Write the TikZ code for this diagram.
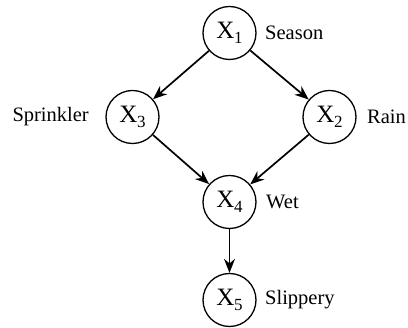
\documentclass[tikz,border=0pt]{standalone}
\usepackage{fontspec}
\setmainfont{Liberation Serif}
\usetikzlibrary{arrows.meta}
\newcommand{\varsub}[1]{X\kern-0.5pt\raisebox{-5.5pt}{\fontsize{17}{17}\selectfont #1}}
\begin{document}
\begin{tikzpicture}[x=1pt,y=-1pt,
  var/.style={circle,draw,line width=1.3pt,minimum size=53pt,inner sep=0pt,font=\fontsize{25}{28}\selectfont},
  lbl/.style={font=\fontsize{20.5}{24}\selectfont,inner sep=0pt},
  edge/.style={line width=1.7pt,-{Stealth[length=14pt,width=11pt]}}]
\useasboundingbox (0,0) rectangle (408,328);
\node[var] (x1) at (229.5,33) {\varsub{1}};
\node[var] (x3) at (132.5,117) {\varsub{3}};
\node[var] (x2) at (329.5,117) {\varsub{2}};
\node[var] (x4) at (229.5,202) {\varsub{4}};
\node[var] (x5) at (229.5,300) {\varsub{5}};
\node[lbl,anchor=west] (l1) at (265,33) {Season};
\node[lbl,anchor=east] (l3) at (89,117) {Sprinkler};
\node[lbl,anchor=west] (l2) at (367,117) {Rain};
\node[lbl,anchor=west] (l4) at (266,202) {Wet};
\node[lbl,anchor=west] (l5) at (265,300) {Slippery};
\draw[edge] (x1) -- (x3);
\draw[edge] (x1) -- (x2);
\draw[edge] (x3) -- (x4);
\draw[edge] (x2) -- (x4);
\draw[edge] (x4) -- (x5);
\end{tikzpicture}
\end{document}
